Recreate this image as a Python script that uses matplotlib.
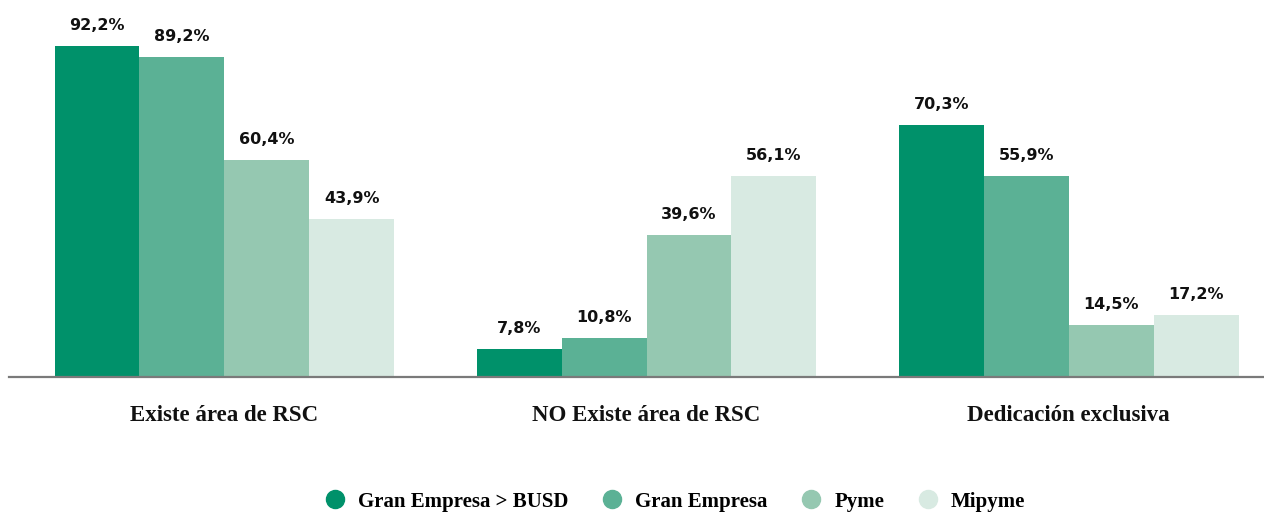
import matplotlib.pyplot as plt
import numpy as np
from matplotlib.lines import Line2D

categories = ["Existe área de RSC", "NO Existe área de RSC", "Dedicación exclusiva"]
series = ["Gran Empresa > BUSD", "Gran Empresa", "Pyme", "Mipyme"]
values = [
    [92.2, 7.8, 70.3],
    [89.2, 10.8, 55.9],
    [60.4, 39.6, 14.5],
    [43.9, 56.1, 17.2],
]
colors = ["#00916a", "#5bb195", "#95c8b1", "#d8eae2"]

fig = plt.figure(figsize=(12.64, 5.15), dpi=100)
ax = fig.add_axes([9 / 1264, 138 / 515, 1254 / 1264, 377 / 515])

x = np.arange(len(categories))
width = 0.201
for i, (name, vals) in enumerate(zip(series, values)):
    pos = x + (i - 1.5) * width
    ax.bar(pos, vals, width=width, color=colors[i], label=name)
    for p, v in zip(pos, vals):
        ax.text(p, v + 3.6, f"{v:.1f}%".replace(".", ","), ha="center", va="bottom",
                fontsize=11.5, fontweight="bold", family="DejaVu Sans", color="#111111")

ax.set_xlim(-0.51, 2.46)
ax.set_ylim(0, 105)
for s in ["top", "right", "left"]:
    ax.spines[s].set_visible(False)
ax.spines["bottom"].set_color("#7a7a7a")
ax.spines["bottom"].set_linewidth(1.6)
ax.set_yticks([])
ax.set_xticks(x)
ax.set_xticklabels(categories, fontsize=16.5, fontweight="bold", family="Liberation Serif", color="#111111")
ax.tick_params(axis="x", length=0, pad=20)

handles = [Line2D([], [], marker="o", linestyle="", markersize=13, color=c) for c in colors]
fig.legend(handles, series, loc="lower center", bbox_to_anchor=(0.53, -0.03), ncol=4, frameon=False,
           prop={"family": "Liberation Serif", "weight": "bold", "size": 15},
           handletextpad=0.1, columnspacing=1.1)

fig.savefig("out.png", dpi=100)
